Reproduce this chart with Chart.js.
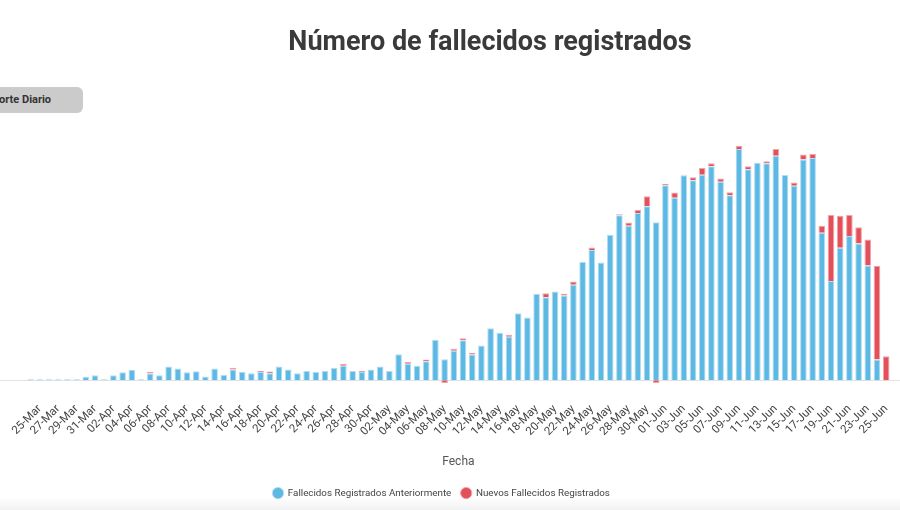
<!DOCTYPE html>
<html><head><meta charset="utf-8">
<script src="https://cdn.jsdelivr.net/npm/chart.js@4/dist/chart.umd.min.js"></script>
<style>
html,body{margin:0;padding:0;background:#fff;overflow:hidden;width:900px;height:510px;}
#wrap{position:relative;width:900px;height:510px;overflow:hidden;}
#title{position:absolute;top:25px;left:0;width:980px;text-align:center;font-family:Roboto,sans-serif;font-weight:bold;font-size:27px;color:#3a3a3a;white-space:nowrap;}
#btn{position:absolute;left:-52px;top:87px;width:135px;height:26px;line-height:26px;border-radius:6px;background:#cbcbcb;font-family:Roboto,sans-serif;font-weight:bold;font-size:11px;color:#333;text-align:center;}
#shade{position:absolute;left:0;top:496px;width:900px;height:14px;background:linear-gradient(to bottom,rgba(0,0,0,0),rgba(0,0,0,0.05));}
canvas{position:absolute;left:0;top:0;}
</style></head>
<body><div id="wrap">
<canvas id="c" width="900" height="510"></canvas>
<div id="title">Número de fallecidos registrados</div>
<div id="btn">Reporte Diario</div>
<div id="shade"></div>
</div>
<script>
const fechas = ['24-Mar','25-Mar','26-Mar','27-Mar','28-Mar','29-Mar','30-Mar','31-Mar',
'01-Apr','02-Apr','03-Apr','04-Apr','05-Apr','06-Apr','07-Apr','08-Apr','09-Apr','10-Apr',
'11-Apr','12-Apr','13-Apr','14-Apr','15-Apr','16-Apr','17-Apr','18-Apr','19-Apr','20-Apr',
'21-Apr','22-Apr','23-Apr','24-Apr','25-Apr','26-Apr','27-Apr','28-Apr','29-Apr','30-Apr',
'01-May','02-May','03-May','04-May','05-May','06-May','07-May','08-May','09-May','10-May',
'11-May','12-May','13-May','14-May','15-May','16-May','17-May','18-May','19-May','20-May',
'21-May','22-May','23-May','24-May','25-May','26-May','27-May','28-May','29-May','30-May','31-May',
'01-Jun','02-Jun','03-Jun','04-Jun','05-Jun','06-Jun','07-Jun','08-Jun','09-Jun','10-Jun',
'11-Jun','12-Jun','13-Jun','14-Jun','15-Jun','16-Jun','17-Jun','18-Jun','19-Jun','20-Jun',
'21-Jun','22-Jun','23-Jun','24-Jun','25-Jun'];

const anteriores = [1,1,1,1,1,1,3.5,5,1,5,
 8,10.5,1,6.7,5,13.7,11.7,8,9,3.7,
 11.7,5.2,10.7,8.5,7,8.3,7,13.7,10.7,7,
 9.2,8.3,9.2,12.2,14.5,9.2,8.3,10.7,13.7,9.2,
 26,16.5,14.5,19,40.3,21,29.3,40,25.7,34.7,
 52,47.3,43.3,67,62.7,86.3,83,88.7,84.7,95.3,
 118,130,117.7,145.3,164.7,154.3,167,173.7,157.7,194.7,
 182.3,204.7,199.7,205.3,213.7,198.3,184.7,231,210.7,217.3,
 216.7,224.3,205,194.3,220.5,222,147.3,99,132.3,144,
 136.7,114.7,20.7,0];

const nuevos = [0,0,0,0,0,0,0,0,0,0,
 0,0,0,1.7,0,0,0,0,0,0,
 0,0,1.7,0,0,1,1.7,0,0,0,
 0,0,0,0,1.7,0,1,0,0,0,
 0,1.7,0,1.7,0,-2.7,2,2,1.7,0,
 0,0,2,0,0,0,4,0,1.7,3.3,
 0,2.5,0,0,1,3.3,3,10,-2.7,1.7,
 5.3,0.7,3,6.7,3,3.3,3,3.3,3,0,
 2,6.7,0,3.3,5,4,7,66,32,21,
 16,26,93.7,24];

const serieNombres = ['Fallecidos Registrados Anteriormente','Nuevos Fallecidos Registrados'];

const baseline = {
  id:'baseline',
  beforeDatasetsDraw(chart){
    const y = Math.round(chart.scales.y.getPixelForValue(0)) + 0.5;
    const c = chart.ctx;
    c.save();
    c.strokeStyle = '#e2e2e2';
    c.lineWidth = 1;
    c.beginPath(); c.moveTo(0,y); c.lineTo(chart.width,y); c.stroke();
    c.restore();
  }
};

const legendShift = {
  id:'legendShift',
  afterLayout(chart){
    const l = chart.legend;
    if (l) { l.left -= 17; l.right -= 17; }
  }
};

new Chart(document.getElementById('c'), {
  type:'bar',
  data:{labels:fechas, datasets:[
    {label:serieNombres[0], data:anteriores, backgroundColor:'#5DB9E3', borderColor:'#b0ddf2', borderWidth:1, stack:'s',
     categoryPercentage:0.8, barPercentage:0.9},
    {label:serieNombres[1], data:nuevos, backgroundColor:'#E4505A', borderColor:'#f2a4a9', borderWidth:1, stack:'s',
     categoryPercentage:0.8, barPercentage:0.9}
  ]},
  options:{
    responsive:false, animation:false, devicePixelRatio:1,
    layout:{padding:{top:130,left:26,right:9,bottom:2}},
    plugins:{
      legend:{position:'bottom', labels:{usePointStyle:true, pointStyle:'circle', boxWidth:10, boxHeight:8,
        font:{family:'Roboto',size:9.8}, color:'#444', padding:10}},
      tooltip:{enabled:false}
    },
    scales:{
      x:{stacked:true, grid:{display:false}, border:{display:false},
        ticks:{autoSkip:false, maxRotation:45, minRotation:45, padding:4,
          font:{family:'Roboto',size:11.5}, color:'#444',
          callback:(v,i)=> (i%2===1 ? fechas[i] : '')},
        title:{display:true, text:'Fecha', font:{family:'Roboto',size:12}, color:'#555', padding:{top:4,bottom:9}},
        afterFit:(s)=>{ s.height = 88; }
      },
      y:{stacked:true, display:false, min:-10, max:250}
    }
  },
  plugins:[baseline, legendShift]
});
</script>
</body></html>
